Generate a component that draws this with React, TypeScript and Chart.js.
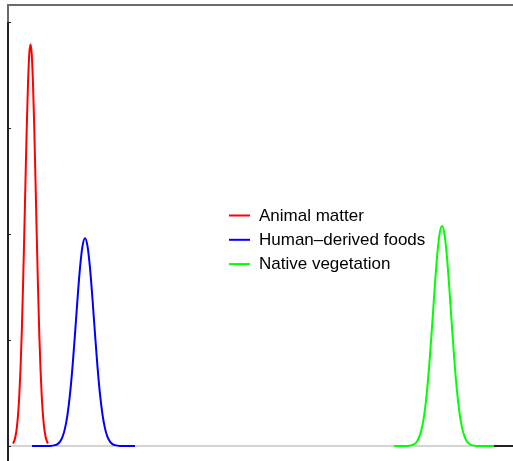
import React, { useEffect, useRef } from "react";
import { Chart, registerables } from "chart.js";

Chart.register(...registerables);

// Density estimates for each food source
const animalX = [1.0, 1.25, 1.5, 1.75, 2.0, 2.25, 2.5, 2.75, 3.0, 3.25, 3.5, 3.75, 4.0, 4.25, 4.5, 4.75, 5.0, 5.25, 5.5, 5.75, 6.0, 6.25, 6.5, 6.75, 7.0, 7.25, 7.5, 7.75, 8.0];
const animalY = [0.0024, 0.0048, 0.0092, 0.0167, 0.0286, 0.0468, 0.0726, 0.1069, 0.1496, 0.1987, 0.2507, 0.3004, 0.3418, 0.3693, 0.379, 0.3693, 0.3418, 0.3004, 0.2507, 0.1987, 0.1496, 0.1069, 0.0726, 0.0468, 0.0286, 0.0167, 0.0092, 0.0048, 0.0024];

const humanX = [4.8, 8.4, 9.4, 9.9, 10.4, 10.9, 11.4, 11.9, 12.4, 12.9, 13.4, 13.9, 14.4, 14.9, 15.4, 15.9, 16.4, 16.9, 17.4, 17.9, 18.4, 18.9, 19.4, 19.9, 20.4, 20.9, 21.4, 22.4, 25.4];
const humanY = [0, 0.0001, 0.0008, 0.0018, 0.0041, 0.0086, 0.0166, 0.0296, 0.0489, 0.0747, 0.1057, 0.1385, 0.168, 0.1886, 0.196, 0.1886, 0.168, 0.1385, 0.1057, 0.0747, 0.0489, 0.0296, 0.0166, 0.0086, 0.0041, 0.0018, 0.0008, 0.0001, 0];

const nativeX = [77.2, 79.8, 80.8, 81.3, 81.8, 82.3, 82.8, 83.3, 83.8, 84.3, 84.8, 85.3, 85.8, 86.3, 86.8, 87.3, 87.8, 88.3, 88.8, 89.3, 89.8, 90.3, 90.8, 91.3, 91.8, 92.3, 92.8, 93.8, 97.2];
const nativeY = [0, 0.0001, 0.0008, 0.0019, 0.0043, 0.0091, 0.0176, 0.0313, 0.0518, 0.0791, 0.1119, 0.1466, 0.1779, 0.1997, 0.2075, 0.1997, 0.1779, 0.1466, 0.1119, 0.0791, 0.0518, 0.0313, 0.0176, 0.0091, 0.0043, 0.0019, 0.0008, 0.0001, 0];

const tailX = [97.2, 101];
const tailY = [0, 0];

const seriesLabels = ["Animal matter", "Human\u2013derived foods", "Native vegetation"];
const seriesColors = ["#ff0000", "#0000ff", "#00ff00"];
const yTicks = [0, 0.1, 0.2, 0.3, 0.4];

const X_MIN = 0;
const X_MAX = 101;
const Y_MIN = -0.014151;
const Y_MAX = 0.416038;

const zip = (xs: number[], ys: number[]) => xs.map((x, i) => ({ x, y: ys[i] }));

const framePlugin = {
  id: "frame",
  beforeDatasetsDraw(chart: any) {
    const { ctx, chartArea, scales } = chart;
    const y0 = scales.y.getPixelForValue(0);
    ctx.save();
    ctx.strokeStyle = "#c4c4c4";
    ctx.lineWidth = 1.5;
    ctx.beginPath();
    ctx.moveTo(chartArea.left, y0);
    ctx.lineTo(chartArea.right, y0);
    ctx.stroke();
    ctx.restore();
  },
  afterDatasetsDraw(chart: any) {
    const { ctx, chartArea, scales } = chart;
    const { left, top, right, bottom } = chartArea;
    ctx.save();
    // box edges
    ctx.strokeStyle = "#6a6a6a";
    ctx.lineWidth = 2;
    ctx.beginPath();
    ctx.moveTo(left, bottom);
    ctx.lineTo(left, top);
    ctx.lineTo(right, top);
    ctx.stroke();
    // y axis line and inward ticks
    const yTop = scales.y.getPixelForValue(yTicks[yTicks.length - 1]);
    ctx.strokeStyle = "#222";
    ctx.beginPath();
    ctx.moveTo(left, yTop);
    ctx.lineTo(left, bottom);
    ctx.stroke();
    ctx.lineWidth = 1;
    yTicks.forEach((t) => {
      const py = Math.round(scales.y.getPixelForValue(t)) + 0.5;
      ctx.beginPath();
      ctx.moveTo(left, py);
      ctx.lineTo(left + 3, py);
      ctx.stroke();
    });
    // legend
    ctx.font = "17px 'Liberation Sans', Arial, sans-serif";
    ctx.textBaseline = "middle";
    ctx.textAlign = "left";
    seriesLabels.forEach((label, i) => {
      const ly = 215.5 + i * 24.3;
      ctx.strokeStyle = seriesColors[i];
      ctx.lineWidth = 2;
      ctx.beginPath();
      ctx.moveTo(229, ly);
      ctx.lineTo(250, ly);
      ctx.stroke();
      ctx.fillStyle = "#000";
      ctx.fillText(label, 259, ly + 0.5);
    });
    ctx.restore();
  },
};

export default function App() {
  const canvasRef = useRef<HTMLCanvasElement | null>(null);

  useEffect(() => {
    if (!canvasRef.current) return;
    const line = (data: { x: number; y: number }[], color: string, label: string) => ({
      label,
      data,
      borderColor: color,
      backgroundColor: color,
      borderWidth: 2,
      pointRadius: 0,
      fill: false,
      cubicInterpolationMode: "monotone" as const,
    });
    const chart = new Chart(canvasRef.current, {
      type: "line",
      data: {
        datasets: [
          line(zip(tailX, tailY), "#222222", "tail"),
          line(zip(animalX, animalY), seriesColors[0], seriesLabels[0]),
          line(zip(humanX, humanY), seriesColors[1], seriesLabels[1]),
          line(zip(nativeX, nativeY), seriesColors[2], seriesLabels[2]),
        ],
      },
      options: {
        animation: false,
        responsive: false,
        devicePixelRatio: 1,
        layout: { padding: { left: 8, top: 5, right: 0, bottom: 0 } },
        plugins: { legend: { display: false }, tooltip: { enabled: false } },
        scales: {
          x: { type: "linear", min: X_MIN, max: X_MAX, display: false },
          y: { type: "linear", min: Y_MIN, max: Y_MAX, display: false },
        },
      },
      plugins: [framePlugin],
    });
    return () => chart.destroy();
  }, []);

  return (
    <canvas
      ref={canvasRef}
      width={513}
      height={461}
      style={{ position: "fixed", left: 0, top: 0, width: 513, height: 461, background: "#fff" }}
    />
  );
}
